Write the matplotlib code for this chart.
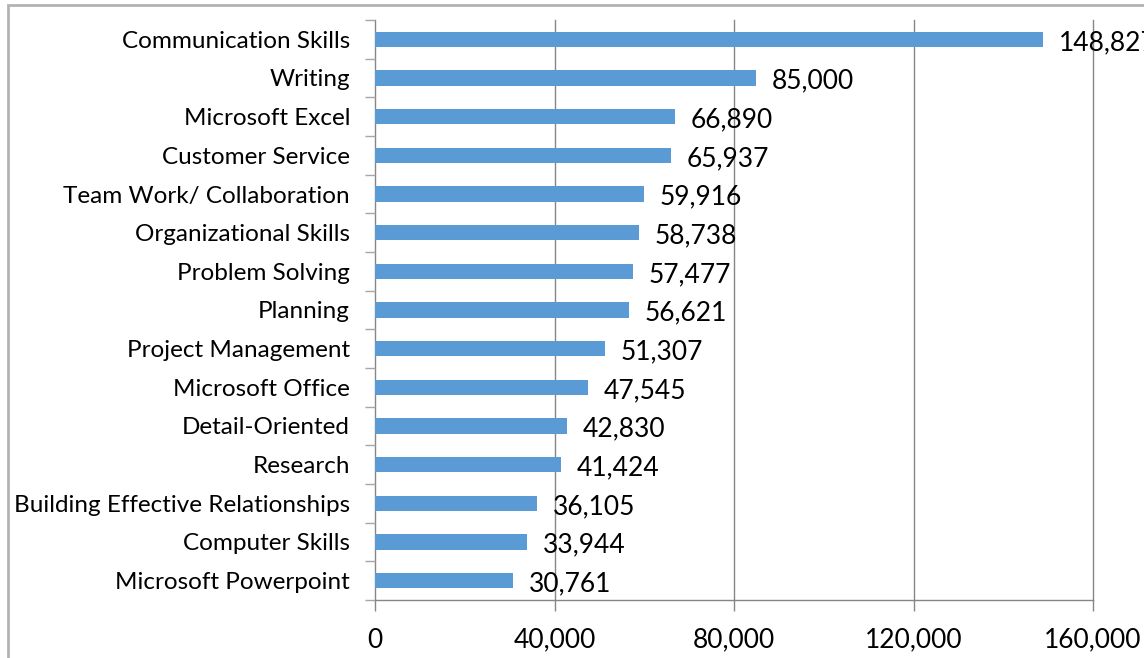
import matplotlib
matplotlib.use("Agg")
import matplotlib.pyplot as plt
from matplotlib.patches import Rectangle

# Data (top to bottom as shown)
skills = ["Communication Skills", "Writing", "Microsoft Excel", "Customer Service",
          "Team Work/ Collaboration", "Organizational Skills", "Problem Solving",
          "Planning", "Project Management", "Microsoft Office", "Detail-Oriented",
          "Research", "Building Effective Relationships", "Computer Skills",
          "Microsoft Powerpoint"]
counts = [148827, 85000, 66890, 65937, 59916, 58738, 57477, 56621, 51307,
          47545, 42830, 41424, 36105, 33944, 30761]
xticks = [0, 40000, 80000, 120000, 160000]

plt.rcParams['font.family'] = ['Lato', 'DejaVu Sans']

fig = plt.figure(figsize=(11.44, 6.58), dpi=100)
ax = fig.add_axes([375 / 1144, 1 - 600 / 658, (1093 - 375) / 1144, 580 / 658])

# outer chart border (cropped on right and bottom)
fig.patches.append(Rectangle((8 / 1144, -0.1), 1.2, 1 - 5 / 658 + 0.1,
                             transform=fig.transFigure, fill=False,
                             edgecolor="#b3b3b3", linewidth=2, clip_on=False))

n = len(skills)
pos = list(range(n))
ax.barh(pos, counts, height=0.4, color="#5b9bd5", zorder=3)
ax.set_ylim(n - 0.5, -0.5)
ax.set_xlim(0, 160000)

# value labels
for p, v in zip(pos, counts):
    ax.text(v + 3500, p + 0.08, f"{v:,}", va="center", ha="left",
            fontsize=19, color="black", zorder=4, clip_on=False)

ax.set_xticks(xticks)
ax.set_xticklabels([f"{t:,}" for t in xticks], fontsize=19)
ax.set_yticks(pos)
ax.set_yticklabels(skills, fontsize=17.5)
ax.tick_params(axis="y", length=0, pad=18)
ax.set_yticks([i - 0.5 for i in range(n + 1)], minor=True)
ax.tick_params(axis="y", which="minor", length=7, color="#a6a6a6", width=1)
ax.tick_params(axis="x", length=8, color="#868686", width=1, pad=12)

ax.grid(axis="x", color="#868686", linewidth=1, zorder=0)
for gl in ax.get_xgridlines():
    gl.set_clip_on(False)
for s in ["left", "right", "top"]:
    ax.spines[s].set_visible(False)
ax.spines["bottom"].set_color("#868686")
ax.spines["bottom"].set_linewidth(1)

plt.savefig("out.png", dpi=100)
